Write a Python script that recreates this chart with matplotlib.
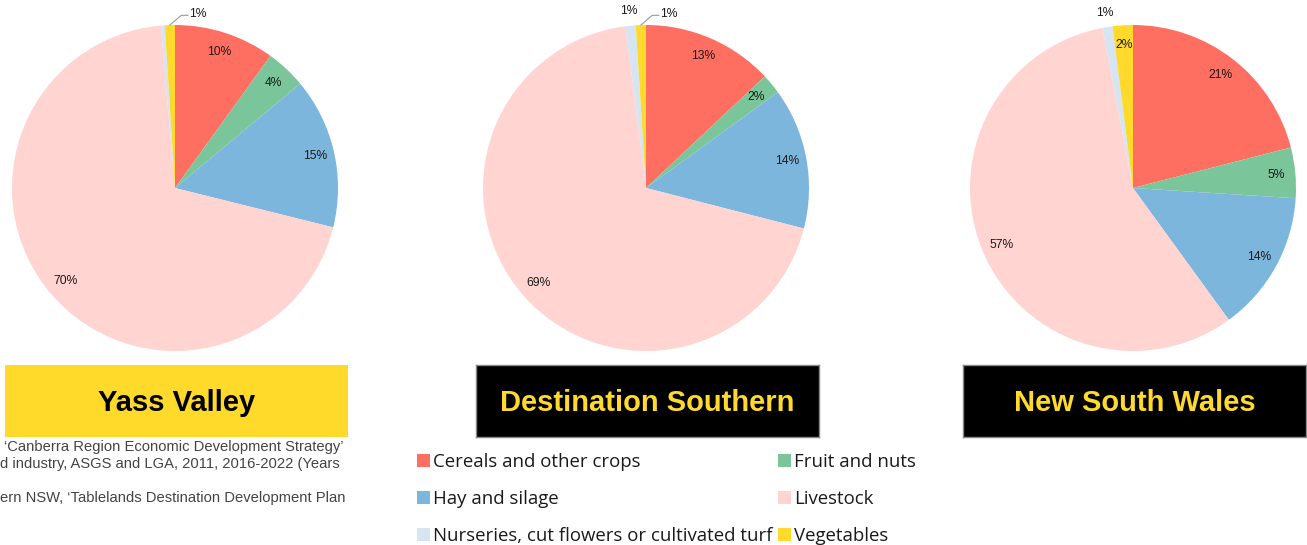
import numpy as np
import matplotlib
matplotlib.use('Agg')
import matplotlib.pyplot as plt
from matplotlib.patches import Patch

categories = ['Cereals and other crops', 'Fruit and nuts', 'Hay and silage',
              'Livestock', 'Nurseries, cut flowers or cultivated turf', 'Vegetables']
colors = ['#FF6F61', '#7AC69A', '#7DB6DD', '#FFD4D1', '#D6E5F2', '#FFD92B']

regions = ['Yass Valley', 'Destination Southern', 'New South Wales']
yass = [10, 4, 15, 70, 0.4, 1]
southern = [13, 2, 14, 69, 1, 1]
nsw = [21, 5, 14, 57, 1, 2]

# how each slice gets its percent label: inside, outside, outside with leader, none
label_modes = [
    ['in', 'in', 'in', 'in', None, 'lead'],
    ['in', 'in', 'in', 'in', 'out', 'lead'],
    ['in', 'in', 'in', 'in', 'out', 'in'],
]

source_lines = [
    '\u2018Canberra Region Economic Development Strategy\u2019',
    'd industry, ASGS and LGA, 2011, 2016-2022 (Years',
    '',
    'ern NSW, \u2018Tablelands Destination Development Plan',
]

W, H = 1307, 545
fig = plt.figure(figsize=(W / 100, H / 100), dpi=100)
fig.patch.set_facecolor('white')

centers_x = [175, 646, 1133]
cy, r = 188, 163
lbl_font = dict(family='Liberation Sans', fontsize=8.7, color='#1a1a1a')

for data, cx, modes in zip([yass, southern, nsw], centers_x, label_modes):
    ax = fig.add_axes([(cx - r) / W, (H - cy - r) / H, 2 * r / W, 2 * r / H])
    wedges, _ = ax.pie(data, colors=colors, startangle=90, counterclock=False,
                       radius=1, wedgeprops=dict(linewidth=0))
    ax.set_xlim(-1, 1)
    ax.set_ylim(-1, 1)
    total = sum(data)
    for w, v, mode in zip(wedges, data, modes):
        if mode is None:
            continue
        ang = np.deg2rad((w.theta1 + w.theta2) / 2)
        txt = f'{v / total * 100:.0f}%'
        if mode == 'in':
            ax.text(0.88 * np.cos(ang), 0.88 * np.sin(ang), txt,
                    ha='center', va='center', **lbl_font)
        elif mode == 'out':
            ax.text(1.09 * np.cos(ang), 1.09 * np.sin(ang), txt,
                    ha='center', va='center', clip_on=False, **lbl_font)
        else:
            x0, y0 = np.cos(ang), np.sin(ang)
            ax.plot([x0, x0 + 0.07, x0 + 0.11], [y0, y0 + 0.06, y0 + 0.06],
                    color='#9a9a9a', lw=0.8, clip_on=False)
            ax.text(x0 + 0.12, y0 + 0.065, txt, ha='left', va='center',
                    clip_on=False, **lbl_font)

# region title boxes
box_x = [5, 476, 963]
box_w = 343
box_styles = [('#FFDA2A', 'black', None), ('black', '#FFD92B', '#888888'),
              ('black', '#FFD92B', '#888888')]
for name, bx, (fc, tc, ec) in zip(regions, box_x, box_styles):
    bax = fig.add_axes([bx / W, (H - 437) / H, box_w / W, 72 / H])
    bax.set_facecolor(fc)
    bax.set_xticks([])
    bax.set_yticks([])
    for s in bax.spines.values():
        if ec is None:
            s.set_visible(False)
        else:
            s.set_color(ec)
            s.set_linewidth(1)
    bax.text(0.5, 0.47, name, ha='center', va='center', fontsize=21,
             fontweight='bold', family='Liberation Sans', color=tc,
             transform=bax.transAxes)

# legend in row-major order
order = [0, 2, 4, 1, 3, 5]
handles = [Patch(facecolor=colors[i], edgecolor='none') for i in order]
labels = [categories[i] for i in order]
fig.legend(handles, labels, ncol=2, loc='upper left',
           bbox_to_anchor=(400 / W, 1 - 436 / H), frameon=False,
           prop=dict(family='Open Sans', size=13.4), handlelength=0.7,
           handleheight=0.7, handletextpad=0.2, columnspacing=0.25,
           labelspacing=1.02, labelcolor='#1a1a1a')

# source notes (cut off at left edge)
for i, line in enumerate(source_lines):
    fig.text(4 / W if i == 0 else 0, 1 - (447 + 17 * i) / H, line,
             ha='left', va='center', fontsize=10.6, family='Liberation Sans',
             color='#444444')

fig.savefig('out.png', dpi=100, facecolor='white')
